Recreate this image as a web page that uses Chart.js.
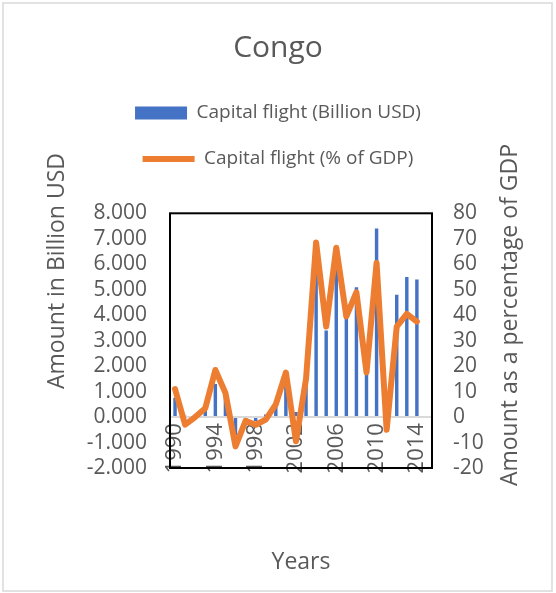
<!DOCTYPE html>
<html>
<head>
<meta charset="utf-8">
<script src="https://cdn.jsdelivr.net/npm/chart.js@4"></script>
<style>
  html, body { margin: 0; padding: 0; background: #fff; }
  #wrap { width: 556px; height: 593px; position: relative; }
</style>
</head>
<body>
<div id="wrap"><canvas id="chart"></canvas></div>
<script>
// Congo capital flight, 1990-2015 (2015 slot left empty, as in the source sheet)
const years = ['1990', '1991', '1992', '1993', '1994', '1995', '1996', '1997', '1998', '1999',
  '2000', '2001', '2002', '2003', '2004', '2005', '2006', '2007', '2008', '2009',
  '2010', '2011', '2012', '2013', '2014', '2015'];

const flightUsd = [0.76, 0.05, 0.10, 0.45, 1.30, 0.90, -0.70, -0.30, -0.15, 0.10,
  0.42, 1.30, 0.20, 1.35, 6.10, 3.40, 5.90, 4.10, 5.10, 1.90,
  7.40, 0.20, 4.80, 5.50, 5.40, null];

const flightPct = [11, -3, 0, 3.5, 18.5, 9.5, -11.5, -1.5, -3, -1,
  5, 17.5, -9.5, 15, 68.5, 35.5, 66.5, 39.5, 49, 17.5,
  60.5, -5, 35.5, 40.5, 37.5, null];

const usdTicks = { min: -2, max: 8, step: 1 };
const pctTicks = { min: -20, max: 80, step: 10 };
const yearLabelEvery = 4;

const TEXT = '#595959';
const BLUE = '#4472C4';
const ORANGE = '#ED7D31';

Chart.defaults.font.family = "'Open Sans', sans-serif";
Chart.defaults.color = TEXT;

// white background + light chart frame, black plot border
const frame = {
  id: 'frame',
  beforeDraw(chart) {
    const { ctx, width, height } = chart;
    ctx.save();
    ctx.fillStyle = '#fff';
    ctx.fillRect(0, 0, width, height);
    ctx.strokeStyle = '#d9d9d9';
    ctx.lineWidth = 1.5;
    ctx.strokeRect(3, 3, width - 7, height - 5);
    ctx.restore();
  },
  afterDatasetsDraw(chart) {
    const { ctx, chartArea: a } = chart;
    ctx.save();
    ctx.strokeStyle = '#000';
    ctx.lineWidth = 2;
    ctx.strokeRect(a.left, a.top, a.right - a.left, a.bottom - a.top);
    ctx.restore();
  },
};

// Excel puts the year labels right under the zero line, inside the plot;
// place them from the category scale and the zero of the left axis.
const yearLabels = {
  id: 'yearLabels',
  beforeDatasetsDraw(chart) {
    const { ctx, scales } = chart;
    const y0 = scales.y.getPixelForValue(0);
    ctx.save();
    ctx.font = "22px 'Open Sans', sans-serif";
    ctx.fillStyle = TEXT;
    ctx.textAlign = 'right';
    ctx.textBaseline = 'middle';
    years.forEach((yr, i) => {
      if (i % yearLabelEvery !== 0) return;
      ctx.save();
      ctx.translate(scales.x.getPixelForValue(i), y0 + 6);
      ctx.rotate(-Math.PI / 2);
      ctx.fillText(yr, 0, 0);
      ctx.restore();
    });
    ctx.restore();
  },
};

// vertical axis titles, placed where Excel left them
const axisTitles = {
  id: 'axisTitles',
  afterDraw(chart) {
    const ctx = chart.ctx;
    ctx.save();
    ctx.font = "23px 'Open Sans', sans-serif";
    ctx.fillStyle = TEXT;
    ctx.textAlign = 'center';
    ctx.textBaseline = 'middle';
    [['Amount in Billion USD', 57, 271], ['Amount as a percentage of GDP', 510, 315]].forEach(([t, x, y]) => {
      ctx.save();
      ctx.translate(x, y);
      ctx.rotate(-Math.PI / 2);
      ctx.fillText(t, 0, 0);
      ctx.restore();
    });
    ctx.restore();
  },
};

new Chart(document.getElementById('chart'), {
  type: 'bar',
  data: {
    labels: years,
    datasets: [
      {
        type: 'bar',
        label: 'Capital flight (Billion USD)',
        data: flightUsd,
        backgroundColor: BLUE,
        borderWidth: 0,
        barPercentage: 0.34,
        categoryPercentage: 1,
        pointStyle: 'rect',
        yAxisID: 'y',
        order: 1,
      },
      {
        type: 'line',
        label: 'Capital flight (% of GDP)',
        data: flightPct,
        borderColor: ORANGE,
        backgroundColor: ORANGE,
        borderWidth: 6,
        borderCapStyle: 'round',
        borderJoinStyle: 'round',
        pointRadius: 0,
        pointHoverRadius: 0,
        pointStyle: 'line',
        tension: 0,
        yAxisID: 'y1',
        order: 0,
      },
    ],
  },
  options: {
    responsive: true,
    maintainAspectRatio: false,
    animation: false,
    layout: { padding: 0 },
    plugins: {
      title: {
        display: true,
        text: 'Congo',
        color: TEXT,
        font: { size: 30, weight: 'normal' },
        padding: { top: 30, bottom: 10.5 },
      },
      // empty spacer between legend and plot area
      subtitle: {
        display: true,
        text: '',
        position: 'top',
        weight: 500,
        padding: 0,
        font: { size: 29 },
      },
      legend: {
        position: 'top',
        labels: {
          usePointStyle: true,
          pointStyleWidth: 52,
          boxHeight: 13,
          padding: 27,
          color: TEXT,
          font: { size: 19 },
          sort: (a, b) => a.datasetIndex - b.datasetIndex,
        },
      },
      tooltip: { enabled: false },
    },
    scales: {
      x: {
        type: 'category',
        position: 'bottom',
        grid: { display: false, drawTicks: false },
        border: { display: false },
        ticks: { display: false },
        title: {
          display: true,
          text: 'Years',
          color: TEXT,
          font: { size: 23 },
          padding: { top: 0, bottom: 17 },
        },
        afterFit: (s) => { s.height = 125; },
      },
      y: {
        position: 'left',
        min: usdTicks.min,
        max: usdTicks.max,
        grid: {
          drawTicks: false,
          tickLength: 0,
          lineWidth: 2,
          color: (c) => (c.tick && c.tick.value === 0 ? '#d9d9d9' : 'rgba(0,0,0,0)'),
        },
        border: { display: false },
        ticks: {
          autoSkip: false,
          stepSize: usdTicks.step,
          padding: 23,
          color: TEXT,
          font: { size: 21, lineHeight: 1 },
          callback: (v) => Number(v).toFixed(3),
        },
        afterFit: (s) => { s.width = 170; },
      },
      y1: {
        position: 'right',
        min: pctTicks.min,
        max: pctTicks.max,
        grid: { display: false, drawTicks: false, tickLength: 0 },
        border: { display: false },
        ticks: {
          autoSkip: false,
          stepSize: pctTicks.step,
          padding: 21,
          color: TEXT,
          font: { size: 21, lineHeight: 1 },
        },
        afterFit: (s) => { s.width = 124; },
      },
    },
  },
  plugins: [frame, yearLabels, axisTitles],
});
</script>
</body>
</html>
